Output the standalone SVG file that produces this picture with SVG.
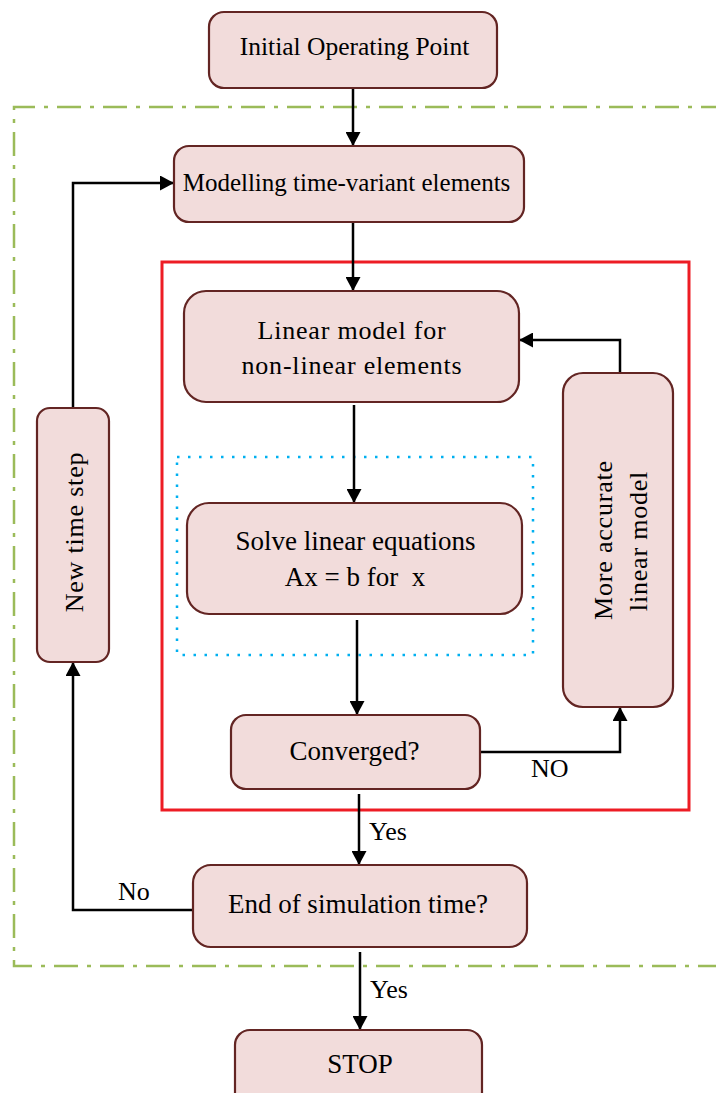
<svg xmlns="http://www.w3.org/2000/svg" width="716" height="1093" viewBox="0 0 716 1093" font-family="Liberation Serif, serif">
<style>
.box{fill:#f2dcdb;stroke:#632523;stroke-width:2.2}
.t{font-size:27px;fill:#000;text-anchor:middle}
.sp{letter-spacing:0.8px;font-size:26px}
.c{fill:none;stroke:#000;stroke-width:2.5}
.lbl{font-size:26px;fill:#000}
</style>
<defs>
<marker id="arr" viewBox="0 0 14 15" refX="14" refY="7.5" markerWidth="14" markerHeight="15" markerUnits="userSpaceOnUse" orient="auto">
<path d="M0,0 L14,7.5 L0,15 Z" fill="#000"/>
</marker>
</defs>
<rect width="716" height="1093" fill="#fff"/>
<g id="regions">
<path d="M725,107 L14,107 L14,966 L725,966" fill="none" stroke="#9bbb59" stroke-width="2.5" stroke-dasharray="24,9,4,9"/>
<rect x="162" y="262" width="527" height="548" fill="none" stroke="#ed1c24" stroke-width="3"/>
<rect x="177" y="457" width="356" height="198" fill="none" stroke="#00b0f0" stroke-width="2.5" stroke-dasharray="2.5,8.5"/>
</g>
<g id="connectors" font-family="Liberation Serif">
<line class="c" x1="353" y1="88" x2="353" y2="146" marker-end="url(#arr)"/>
<line class="c" x1="353" y1="222" x2="353" y2="291" marker-end="url(#arr)"/>
<line class="c" x1="354" y1="405" x2="354" y2="503" marker-end="url(#arr)"/>
<line class="c" x1="357" y1="620" x2="357" y2="715" marker-end="url(#arr)"/>
<polyline class="c" points="480,752 620,752 620,707" marker-end="url(#arr)"/>
<polyline class="c" points="620,373 620,340 519,340" marker-end="url(#arr)"/>
<line class="c" x1="359" y1="794" x2="359" y2="865" marker-end="url(#arr)"/>
<line class="c" x1="360" y1="952" x2="360" y2="1030" marker-end="url(#arr)"/>
<polyline class="c" points="193,910 73,910 73,662" marker-end="url(#arr)"/>
<polyline class="c" points="73,408 73,183 174,183" marker-end="url(#arr)"/>
<text class="lbl" x="531" y="777">NO</text>
<text class="lbl" x="369" y="840">Yes</text>
<text class="lbl" x="118" y="900">No</text>
<text class="lbl" x="370" y="998">Yes</text>
</g>
<g id="n1" font-family="Liberation Serif"><rect class="box" x="209" y="12" width="288" height="76" rx="15"/><text class="t" x="354.5" y="55" font-size="25.5" style="font-size:25.5px">Initial Operating Point</text></g>
<g id="n2" font-family="Liberation Serif"><rect class="box" x="174" y="146" width="350" height="76" rx="15"/><text class="t" x="346.5" y="191" style="font-size:25px">Modelling time-variant elements</text></g>
<g id="n3" font-family="Liberation Serif"><rect class="box" x="184" y="291" width="335" height="111" rx="22"/><text class="t sp" x="352" y="339">Linear model for</text><text class="t sp" x="352" y="374">non-linear elements</text></g>
<g id="n4" font-family="Liberation Serif"><rect class="box" x="187" y="503" width="335" height="111" rx="22"/><text class="t" x="355.5" y="550">Solve linear equations</text><text class="t" x="355" y="586" xml:space="preserve">Ax = b for  x</text></g>
<g id="n5" font-family="Liberation Serif"><rect class="box" x="231" y="715" width="249" height="74" rx="15"/><text class="t" x="354.5" y="760">Converged?</text></g>
<g id="n6" font-family="Liberation Serif"><rect class="box" x="563" y="373" width="110" height="334" rx="20"/><text class="t sp" transform="translate(612,540) rotate(-90)">More accurate</text><text class="t sp" transform="translate(647,541) rotate(-90)">linear model</text></g>
<g id="n7" font-family="Liberation Serif"><rect class="box" x="193" y="865" width="334" height="82" rx="18"/><text class="t" x="358" y="913">End of simulation time?</text></g>
<g id="n8" font-family="Liberation Serif"><rect class="box" x="37" y="408" width="72" height="254" rx="13"/><text class="t sp" transform="translate(83,532) rotate(-90)">New time step</text></g>
<g id="n9" font-family="Liberation Serif"><rect class="box" x="235" y="1030" width="247" height="80" rx="15"/><text class="t" x="360" y="1073">STOP</text></g>
</svg>
